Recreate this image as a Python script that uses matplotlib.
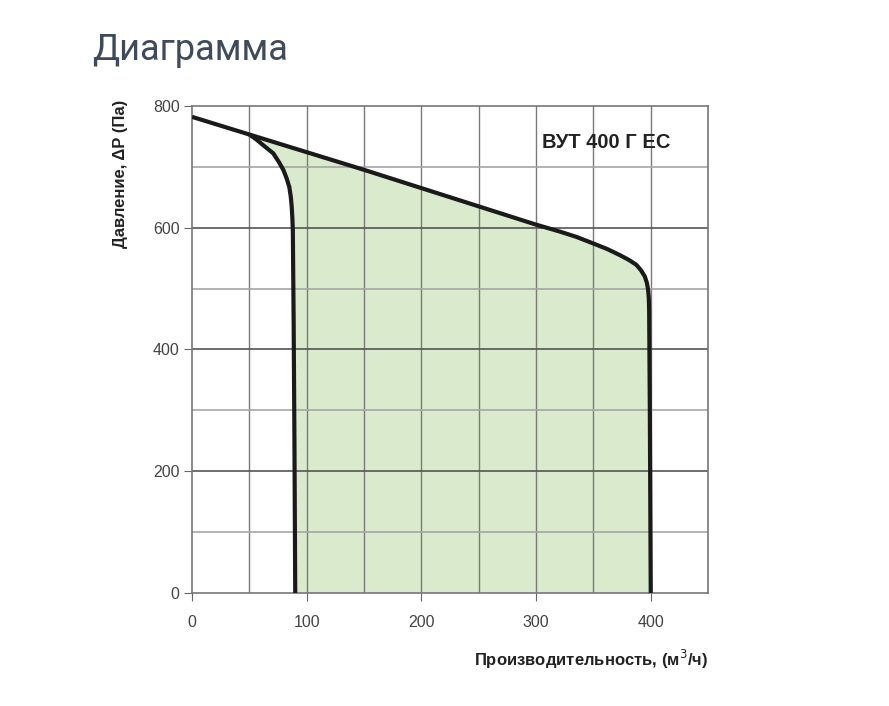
import numpy as np
import matplotlib.pyplot as plt

# fan curve (flow m3/h, pressure Pa)
upper_x = [0, 50, 100, 150, 200, 250, 300, 320, 335, 350, 362, 373, 381, 387.5, 391.5,
           394.8, 396.7, 397.7, 398.3, 398.6, 399.2, 400]
upper_y = [782, 753, 724, 695, 665, 635, 605, 594, 585, 574, 565, 555, 547, 539, 530,
           520, 509, 498, 485, 465, 300, 0]
left_x = [50, 56, 63, 70.9, 76, 79.6, 82.5, 84.8, 86.1, 86.9, 87.5, 87.9, 88.6, 89.3, 90]
left_y = [753, 745, 734, 722, 707, 695, 681, 667, 651, 635, 615, 596, 450, 250, 0]

xticks = [0, 100, 200, 300, 400]
yticks = [0, 200, 400, 600, 800]

plt.rcParams['font.family'] = ['Liberation Sans', 'DejaVu Sans']

fig = plt.figure(figsize=(8.89, 7.06), dpi=100)
ax = fig.add_axes([0.216, 0.160, 0.5805, 0.690])

# shaded working area
ux = np.array(upper_x[1:])
uy = np.array(upper_y[1:])
fx = np.concatenate([ux, left_x[::-1]])
fy = np.concatenate([uy, left_y[::-1]])
ax.fill(fx, fy, color='#d9eacd', zorder=1, lw=0)

# grid
for v in range(50, 450, 50):
    ax.axvline(v, color='#7a7a7a', lw=1, zorder=2)
for v in range(100, 800, 100):
    ax.axhline(v, color='#555555' if v % 200 == 0 else '#a5a5a5', lw=1.2, zorder=2)

ax.plot(upper_x, upper_y, color='#1a1a1a', lw=3, zorder=3,
        solid_capstyle='butt', solid_joinstyle='round')
ax.plot(left_x, left_y, color='#1a1a1a', lw=3, zorder=3,
        solid_capstyle='butt', solid_joinstyle='round')

ax.set_xlim(0, 450)
ax.set_ylim(0, 800)
ax.set_xticks(xticks)
ax.set_yticks(yticks)
ax.tick_params(axis='both', direction='out', length=6, color='#666666',
               labelsize=11.5, labelcolor='#444444')
ax.tick_params(axis='x', pad=10)
ax.tick_params(axis='y', pad=3)
for s in ax.spines.values():
    s.set_color('#777777')
    s.set_linewidth(1.2)

ax.text(0.802, 0.924, 'ВУТ 400 Г ЕС', transform=ax.transAxes, ha='center', va='center',
        fontsize=14.5, fontweight='bold', color='#222222')

ax.set_xlabel('Производительность, (м$^3$/ч)', fontsize=12, fontweight='bold',
              color='#222222', loc='right', labelpad=13)
ax.set_ylabel('Давление, ΔP (Па)', fontsize=12, fontweight='bold',
              color='#222222', loc='top', labelpad=14)
ax.yaxis.set_label_coords(-0.124, 1.013)

fig.text(0.1035, 0.915, 'Диаграмма', fontsize=26, color='#3f4b5b',
         family=['Roboto', 'DejaVu Sans'])

fig.savefig('out.png', dpi=100)
